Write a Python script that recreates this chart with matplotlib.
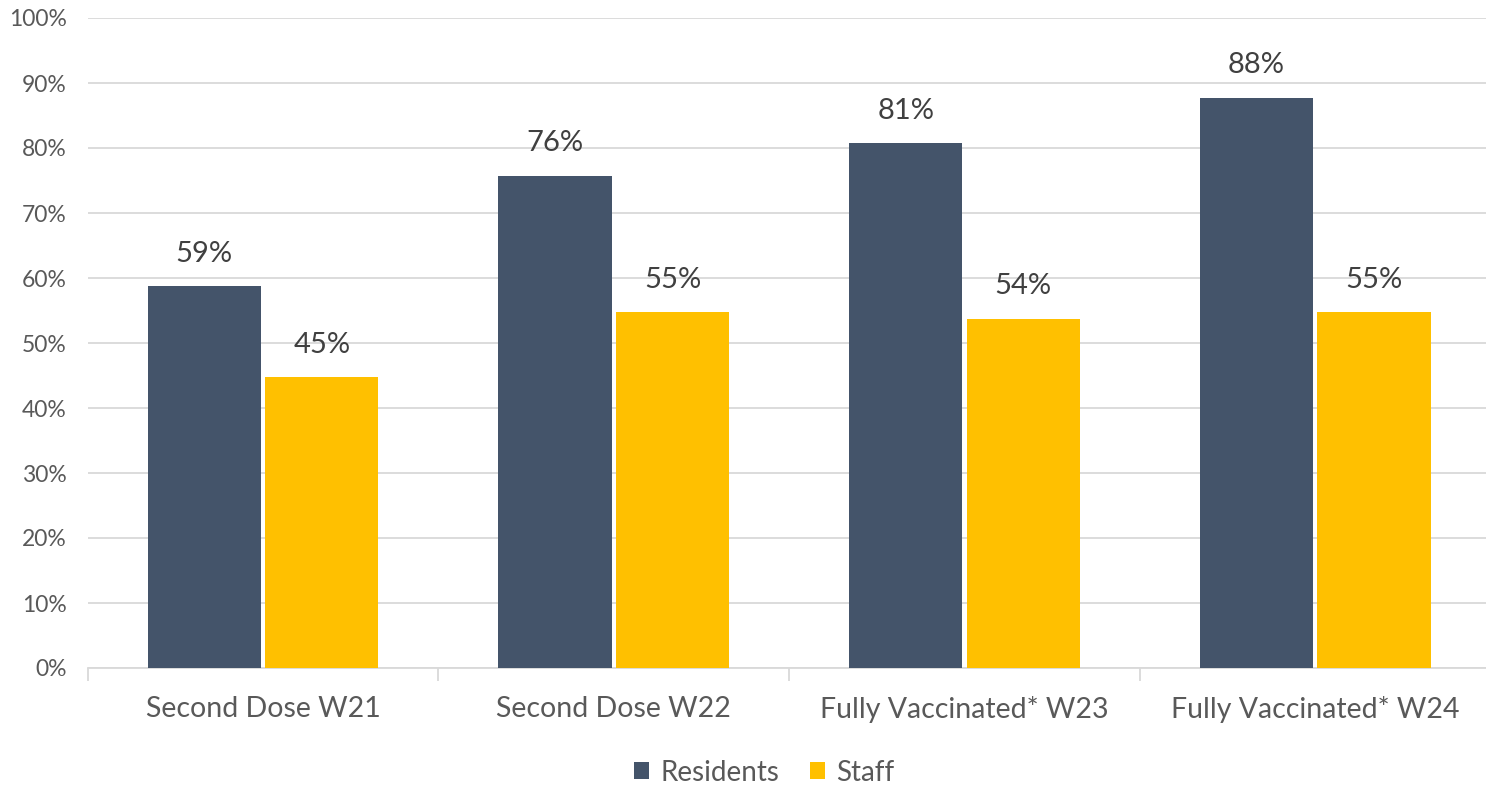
import matplotlib
matplotlib.use('Agg')
import matplotlib.pyplot as plt
import numpy as np
from matplotlib.ticker import MultipleLocator, FuncFormatter

categories = ['Second Dose W21', 'Second Dose W22', 'Fully Vaccinated* W23', 'Fully Vaccinated* W24']
residents = [58.7, 75.7, 80.7, 87.7]
staff = [44.7, 54.7, 53.7, 54.7]
series_names = ['Residents', 'Staff']

text_c = '#595959'
grid_c = '#D9D9D9'
colors = ['#44546A', '#FFC000']

plt.rcParams['font.family'] = ['Lato', 'DejaVu Sans']

fig = plt.figure(figsize=(14.86, 7.86), dpi=100)
ax = fig.add_axes([87.7 / 1486, 1 - 668 / 786, 1403 / 1486, 650 / 786])

x = np.arange(len(categories))
w = 0.323
gap = 0.006
for vals, off, c, name in [(residents, -1, colors[0], series_names[0]), (staff, 1, colors[1], series_names[1])]:
    pos = x + off * (w / 2 + gap)
    bars = ax.bar(pos, vals, width=w, color=c, label=name, zorder=3)
    for b, v in zip(bars, vals):
        ax.text(b.get_x() + b.get_width() / 2, v + 3.0, f'{round(v):d}%',
                ha='center', va='bottom', fontsize=21, color='#404040')

ax.set_xlim(-0.5, len(categories) - 0.5)
ax.set_ylim(0, 100)
ax.yaxis.set_major_locator(MultipleLocator(10))
ax.yaxis.set_major_formatter(FuncFormatter(lambda v, p: f'{v:.0f}%'))
ax.grid(axis='y', color=grid_c, lw=1.3, zorder=0)
ax.set_axisbelow(True)

for s in ['top', 'right', 'left']:
    ax.spines[s].set_visible(False)
ax.spines['bottom'].set_color(grid_c)
ax.spines['bottom'].set_linewidth(1.3)

ax.set_xticks(x)
ax.set_xticklabels(categories, fontsize=20.5, color=text_c)
ax.set_xticks(np.arange(-0.5, len(categories)), minor=True)
ax.tick_params(axis='x', which='major', length=0, pad=20)
ax.tick_params(axis='x', which='minor', length=9, color=grid_c, width=1.3)
ax.tick_params(axis='y', length=0, labelsize=16.5, labelcolor=text_c, pad=15)

ax.legend(loc='center', bbox_to_anchor=(0.482, -0.161), ncol=2, frameon=False,
          fontsize=20, labelcolor=text_c, handlelength=0.55, handleheight=0.55,
          handletextpad=0.4, columnspacing=1.1)

fig.savefig('out.png', dpi=100)
